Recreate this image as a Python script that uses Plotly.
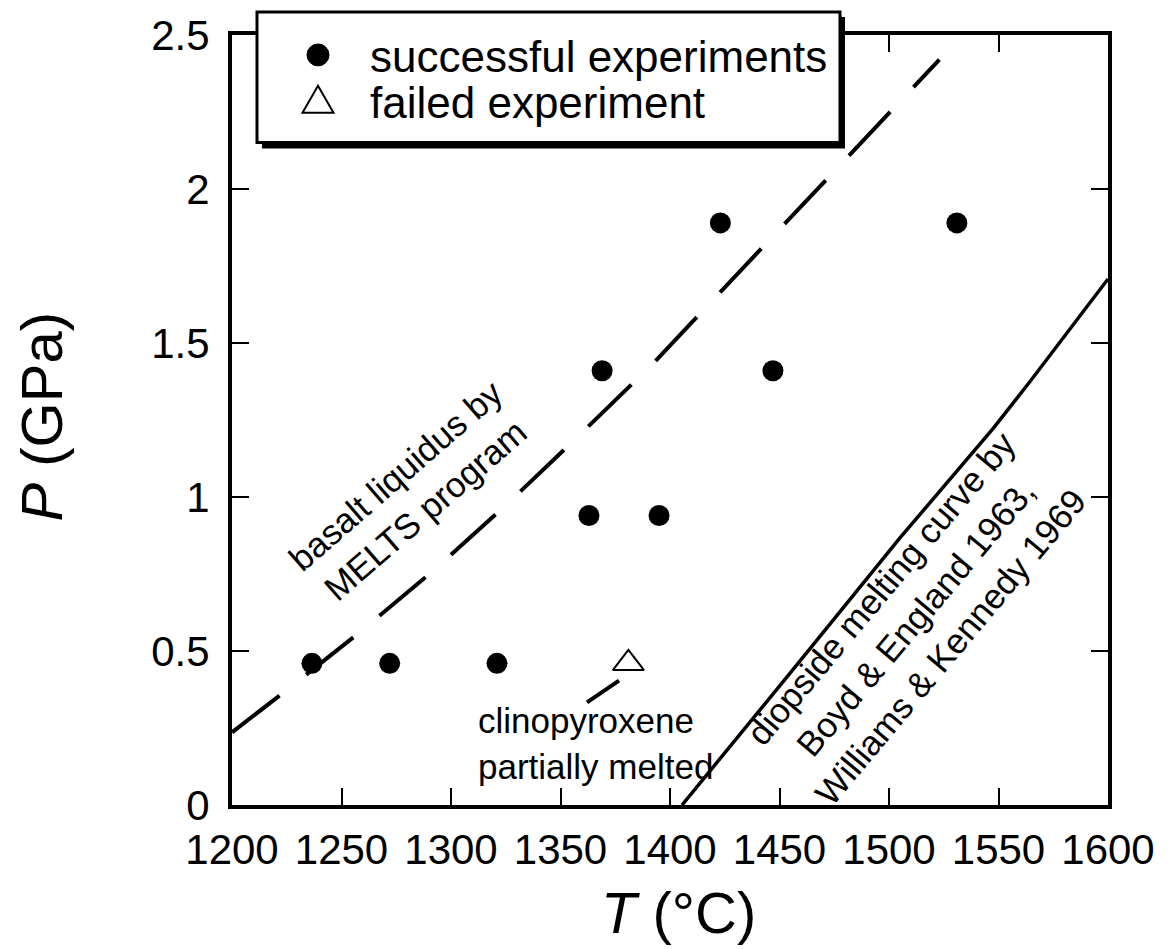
import plotly.graph_objects as go

# --- experimental run conditions ---
T_success = [1236.5, 1272, 1321, 1363, 1369, 1395, 1423, 1447, 1531]
P_success = [0.46, 0.46, 0.46, 0.94, 1.41, 0.94, 1.89, 1.41, 1.89]
T_failed = [1381]
P_failed = [0.46]

# --- basalt liquidus computed with MELTS ---
T_melts = [1200, 1221.9, 1257.5, 1291.8, 1325.6, 1357.5, 1392.2, 1523]
P_melts = [0.236, 0.356, 0.556, 0.760, 0.977, 1.193, 1.433, 2.42]

# --- clinopyroxene partial melting segment ---
T_cpx = [1362.1, 1376.7]
P_cpx = [0.333, 0.404]

# --- diopside melting curve (Boyd & England 1963; Williams & Kennedy 1969) ---
T_diop = [1405.5, 1413.7, 1460.7, 1505, 1547.5, 1564.4, 1600]
P_diop = [0.0, 0.071, 0.479, 0.867, 1.222, 1.375, 1.708]

x_ticks = [1200, 1250, 1300, 1350, 1400, 1450, 1500, 1550, 1600]
y_ticks = [0, 0.5, 1, 1.5, 2, 2.5]
y_ticktext = ["0", "0.5", "1", "1.5", "2", "2.5"]

FONT = "Liberation Sans, Arial, Helvetica, sans-serif"

W, H = 1173, 949
ML, MR, MT, MB = 232, 65, 32, 144
PW = W - ML - MR
PH = H - MT - MB


def px(x):
    return (x - ML) / PW


def py(y):
    return (H - MB - y) / PH


fig = go.Figure()

fig.add_trace(go.Scatter(
    x=T_melts, y=P_melts, mode="lines",
    line=dict(color="black", width=4, dash="60px,34px"),
    showlegend=False, hoverinfo="skip"))

fig.add_trace(go.Scatter(
    x=T_cpx, y=P_cpx, mode="lines",
    line=dict(color="black", width=4),
    showlegend=False, hoverinfo="skip"))

fig.add_trace(go.Scatter(
    x=T_diop, y=P_diop, mode="lines",
    line=dict(color="black", width=3.5),
    showlegend=False, hoverinfo="skip"))

fig.add_trace(go.Scatter(
    x=T_success, y=P_success, mode="markers",
    marker=dict(symbol="circle", size=21, color="black"),
    name="successful experiments", showlegend=False))

fig.add_trace(go.Scatter(
    x=T_failed, y=P_failed, mode="markers",
    marker=dict(symbol="triangle-up", size=27, color="white",
                line=dict(color="black", width=2)),
    name="failed experiment", showlegend=False, cliponaxis=False))

# legend frame with drop shadow
shapes = [
    dict(type="rect", xref="paper", yref="paper",
         x0=px(262), x1=px(845), y0=py(146), y1=py(14),
         fillcolor="black", line=dict(width=0), layer="above"),
    dict(type="rect", xref="paper", yref="paper",
         x0=px(257), x1=px(840), y0=py(140), y1=py(9),
         fillcolor="white", line=dict(color="black", width=3), layer="above"),
    dict(type="circle", xref="paper", yref="paper",
         x0=px(307), x1=px(329), y0=py(63), y1=py(41),
         fillcolor="black", line=dict(color="black", width=1), layer="above"),
    dict(type="path", xref="paper", yref="paper",
         path=f"M {px(302.5)} {py(110)} L {px(333.5)} {py(110)} L {px(318)} {py(83)} Z",
         fillcolor="white", line=dict(color="black", width=2), layer="above"),
]

annotations = [
    dict(text="successful experiments", xref="paper", yref="paper",
         x=px(368), y=py(54), xanchor="left", yanchor="middle",
         showarrow=False, font=dict(family=FONT, size=44, color="black")),
    dict(text="failed experiment", xref="paper", yref="paper",
         x=px(368), y=py(100), xanchor="left", yanchor="middle",
         showarrow=False, font=dict(family=FONT, size=44, color="black")),
    dict(text="basalt liquidus by<br>MELTS program", x=1281.7, y=1.015,
         xref="x", yref="y", textangle=-41, showarrow=False,
         xanchor="center", yanchor="middle", align="center",
         font=dict(family=FONT, size=35, color="black")),
    dict(text="clinopyroxene<br>partially melted", x=1311.4, y=0.2,
         xref="x", yref="y", showarrow=False,
         xanchor="left", yanchor="middle", align="left",
         font=dict(family=FONT, size=35, color="black")),
    dict(text="diopside melting curve by<br>Boyd &amp; England 1963,<br>Williams &amp; Kennedy 1969",
         x=1511.9, y=0.608, xref="x", yref="y", textangle=-50, showarrow=False,
         xanchor="center", yanchor="middle", align="center",
         font=dict(family=FONT, size=35, color="black")),
    dict(text="<i>T</i> (°C)", xref="paper", yref="paper",
         x=px(678), y=py(913), xanchor="center", yanchor="middle",
         showarrow=False, font=dict(family=FONT, size=58, color="black")),
    dict(text="<i>P</i> (GPa)", xref="paper", yref="paper",
         x=px(42), y=py(415), xanchor="center", yanchor="middle",
         textangle=-90, showarrow=False,
         font=dict(family=FONT, size=58, color="black")),
]

axis_common = dict(
    showline=True, linewidth=4, linecolor="black", mirror="ticks",
    ticks="inside", ticklen=17, tickwidth=2, tickcolor="black",
    showgrid=False, zeroline=False,
    tickfont=dict(family=FONT, size=42, color="black"),
)

fig.update_layout(
    width=W, height=H,
    margin=dict(l=ML, r=MR, t=MT, b=MB, pad=0),
    paper_bgcolor="white", plot_bgcolor="white",
    font=dict(family=FONT, color="black"),
    xaxis=dict(range=[1200, 1600], tickvals=x_ticks, ticklabelstandoff=5, **axis_common),
    yaxis=dict(range=[0, 2.5], tickvals=y_ticks, ticktext=y_ticktext,
               ticklabelstandoff=10, **axis_common),
    shapes=shapes, annotations=annotations,
    showlegend=False,
)

fig.write_html("out.html")
